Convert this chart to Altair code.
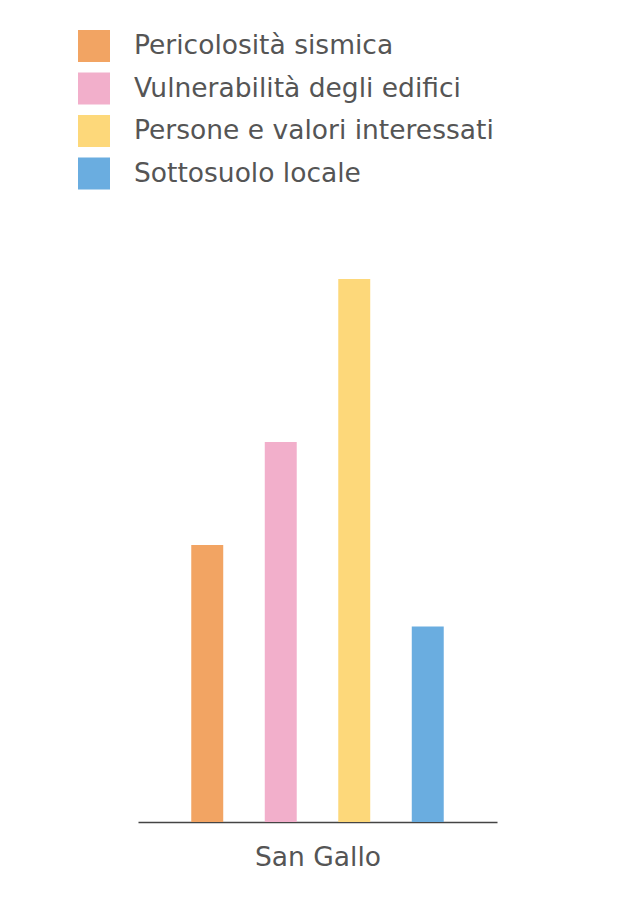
import altair as alt
import pandas as pd

categories = ["Pericolosità sismica", "Vulnerabilità degli edifici",
              "Persone e valori interessati", "Sottosuolo locale"]
values = [5.1, 7.0, 10.0, 3.6]
colors = ["#F2A463", "#F2AFCB", "#FDD87A", "#6AADE0"]
group = "San Gallo"

df = pd.DataFrame({"serie": categories, "valore": values, "gruppo": [group] * len(categories)})

FONT = "DejaVu Sans"

chart = alt.Chart(df).mark_bar().encode(
    x=alt.X("serie:N", sort=categories,
            scale=alt.Scale(paddingInner=0.565, paddingOuter=0.7246),
            axis=alt.Axis(labels=False, ticks=False, grid=False, title=group,
                          domainColor="#444444", domainWidth=1.5,
                          titleFont=FONT, titleFontSize=26.5, titleFontWeight="normal",
                          titleColor="#555555", titlePadding=22)),
    y=alt.Y("valore:Q", scale=alt.Scale(domain=[0, 10]), axis=None),
    color=alt.Color("serie:N", sort=categories,
                    scale=alt.Scale(domain=categories, range=colors),
                    legend=alt.Legend(title=None, orient="none", legendX=-60, legendY=-249,
                                      symbolType="square", symbolSize=1024,
                                      symbolStrokeWidth=0, symbolOpacity=1,
                                      labelFont=FONT, labelFontSize=26.5, labelColor="#555555",
                                      labelOffset=24, rowPadding=10.5, labelLimit=600)),
).properties(
    width=359, height=543,
    padding={"left": 70, "top": 22, "right": 5, "bottom": 5},
).configure_view(stroke=None)

chart.save("out.html", embed_options={"renderer": "svg", "actions": False})
